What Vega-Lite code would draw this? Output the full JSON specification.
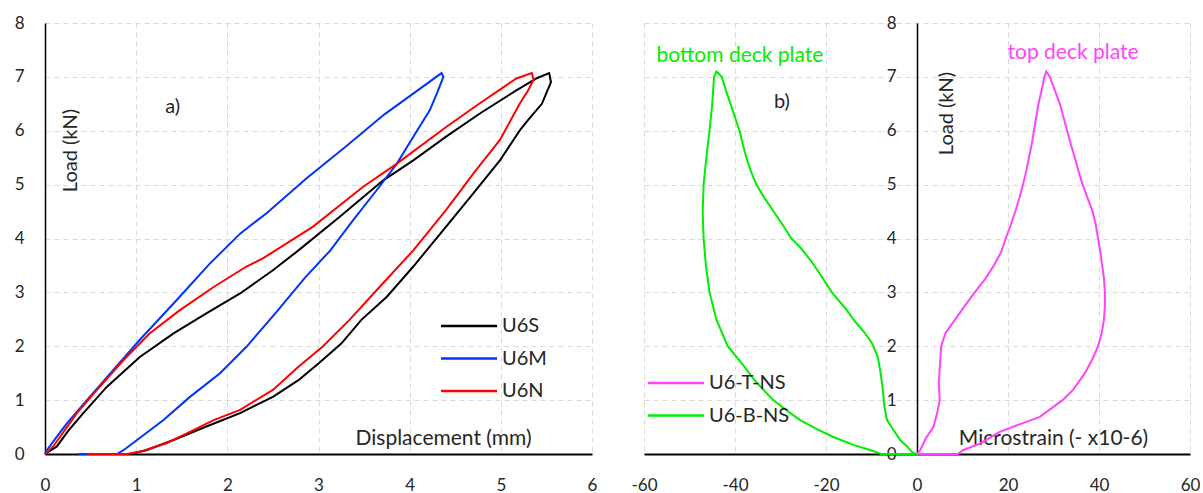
{
  "$schema": "https://vega.github.io/schema/vega-lite/v6.json",
  "background": "white",
  "padding": {"left": 14, "top": 14, "right": 0, "bottom": 0},
  "bounds": "flush",
  "spacing": 52,
  "config": {
    "view": {"stroke": null},
    "font": "Lato",
    "axis": {
      "labelFont": "Lato", "labelFontSize": 17, "labelColor": "#262626", "labelFlush": false,
      "labelExpr": "'' + datum.value",
      "titleFont": "Lato", "titleFontSize": 21, "titleFontWeight": "normal", "titleColor": "#262626",
      "ticks": false, "grid": true, "gridColor": "#d9d9d9", "gridDash": [5, 4], "gridWidth": 1,
      "domainColor": "#000000"
    },
    "legend": {
      "labelFont": "Lato", "labelFontSize": 20, "labelColor": "#262626",
      "symbolType": "M-1.42,0H1.42", "symbolStrokeWidth": 2.5, "symbolSize": 1560,
      "rowPadding": 1.5, "labelOffset": 12, "title": null
    }
  },
  "datasets": {
    "disp": [
      {"s":"U6S","i":1,"d":0,"p":0},{"s":"U6S","i":2,"d":0.13,"p":0.14},{"s":"U6S","i":3,"d":0.25,"p":0.42},{"s":"U6S","i":4,"d":0.42,"p":0.76},{"s":"U6S","i":5,"d":0.68,"p":1.25},{"s":"U6S","i":6,"d":1.04,"p":1.8},{"s":"U6S","i":7,"d":1.41,"p":2.24},{"s":"U6S","i":8,"d":1.77,"p":2.61},{"s":"U6S","i":9,"d":2.14,"p":2.98},{"s":"U6S","i":10,"d":2.5,"p":3.41},{"s":"U6S","i":11,"d":2.78,"p":3.78},{"s":"U6S","i":12,"d":3.23,"p":4.4},{"s":"U6S","i":13,"d":3.71,"p":5.08},{"s":"U6S","i":14,"d":4.04,"p":5.45},{"s":"U6S","i":15,"d":4.4,"p":5.89},{"s":"U6S","i":16,"d":4.77,"p":6.32},{"s":"U6S","i":17,"d":5.17,"p":6.75},{"s":"U6S","i":18,"d":5.4,"p":6.98},{"s":"U6S","i":19,"d":5.53,"p":7.07},{"s":"U6S","i":20,"d":5.55,"p":6.9},{"s":"U6S","i":21,"d":5.45,"p":6.5},{"s":"U6S","i":22,"d":5.3,"p":6.2},{"s":"U6S","i":23,"d":5.21,"p":6.01},{"s":"U6S","i":24,"d":4.99,"p":5.45},{"s":"U6S","i":25,"d":4.7,"p":4.84},{"s":"U6S","i":26,"d":4.4,"p":4.22},{"s":"U6S","i":27,"d":4.04,"p":3.48},{"s":"U6S","i":28,"d":3.75,"p":2.92},{"s":"U6S","i":29,"d":3.47,"p":2.49},{"s":"U6S","i":30,"d":3.25,"p":2.05},{"s":"U6S","i":31,"d":3.0,"p":1.68},{"s":"U6S","i":32,"d":2.78,"p":1.37},{"s":"U6S","i":33,"d":2.5,"p":1.06},{"s":"U6S","i":34,"d":2.14,"p":0.76},{"s":"U6S","i":35,"d":1.77,"p":0.51},{"s":"U6S","i":36,"d":1.41,"p":0.26},{"s":"U6S","i":37,"d":1.11,"p":0.07},{"s":"U6S","i":38,"d":0.93,"p":0},{"s":"U6S","i":39,"d":0.85,"p":0},
      {"s":"U6M","i":1,"d":0,"p":0},{"s":"U6M","i":2,"d":0.02,"p":0.07},{"s":"U6M","i":3,"d":0.12,"p":0.3},{"s":"U6M","i":4,"d":0.24,"p":0.57},{"s":"U6M","i":5,"d":0.46,"p":1.0},{"s":"U6M","i":6,"d":0.75,"p":1.56},{"s":"U6M","i":7,"d":1.04,"p":2.12},{"s":"U6M","i":8,"d":1.44,"p":2.85},{"s":"U6M","i":9,"d":1.8,"p":3.52},{"s":"U6M","i":10,"d":2.14,"p":4.09},{"s":"U6M","i":11,"d":2.43,"p":4.47},{"s":"U6M","i":12,"d":2.87,"p":5.12},{"s":"U6M","i":13,"d":3.31,"p":5.72},{"s":"U6M","i":14,"d":3.72,"p":6.3},{"s":"U6M","i":15,"d":4.08,"p":6.74},{"s":"U6M","i":16,"d":4.35,"p":7.07},{"s":"U6M","i":17,"d":4.37,"p":7.0},{"s":"U6M","i":18,"d":4.3,"p":6.7},{"s":"U6M","i":19,"d":4.22,"p":6.38},{"s":"U6M","i":20,"d":4.04,"p":5.89},{"s":"U6M","i":21,"d":3.86,"p":5.39},{"s":"U6M","i":22,"d":3.64,"p":4.9},{"s":"U6M","i":23,"d":3.38,"p":4.34},{"s":"U6M","i":24,"d":3.13,"p":3.78},{"s":"U6M","i":25,"d":2.85,"p":3.27},{"s":"U6M","i":26,"d":2.54,"p":2.64},{"s":"U6M","i":27,"d":2.21,"p":1.99},{"s":"U6M","i":28,"d":1.92,"p":1.5},{"s":"U6M","i":29,"d":1.59,"p":1.06},{"s":"U6M","i":30,"d":1.3,"p":0.63},{"s":"U6M","i":31,"d":1.01,"p":0.26},{"s":"U6M","i":32,"d":0.86,"p":0.07},{"s":"U6M","i":33,"d":0.79,"p":0},{"s":"U6M","i":34,"d":0.37,"p":0},
      {"s":"U6N","i":1,"d":0,"p":0},{"s":"U6N","i":2,"d":0.09,"p":0.14},{"s":"U6N","i":3,"d":0.2,"p":0.4},{"s":"U6N","i":4,"d":0.35,"p":0.76},{"s":"U6N","i":5,"d":0.57,"p":1.19},{"s":"U6N","i":6,"d":0.86,"p":1.74},{"s":"U6N","i":7,"d":1.15,"p":2.24},{"s":"U6N","i":8,"d":1.48,"p":2.67},{"s":"U6N","i":9,"d":1.85,"p":3.1},{"s":"U6N","i":10,"d":2.21,"p":3.48},{"s":"U6N","i":11,"d":2.39,"p":3.63},{"s":"U6N","i":12,"d":2.94,"p":4.22},{"s":"U6N","i":13,"d":3.49,"p":4.96},{"s":"U6N","i":14,"d":3.86,"p":5.39},{"s":"U6N","i":15,"d":4.4,"p":6.07},{"s":"U6N","i":16,"d":4.77,"p":6.51},{"s":"U6N","i":17,"d":5.17,"p":6.97},{"s":"U6N","i":18,"d":5.34,"p":7.07},{"s":"U6N","i":19,"d":5.36,"p":6.95},{"s":"U6N","i":20,"d":5.3,"p":6.75},{"s":"U6N","i":21,"d":5.21,"p":6.51},{"s":"U6N","i":22,"d":4.99,"p":5.83},{"s":"U6N","i":23,"d":4.7,"p":5.21},{"s":"U6N","i":24,"d":4.4,"p":4.53},{"s":"U6N","i":25,"d":4.04,"p":3.78},{"s":"U6N","i":26,"d":3.67,"p":3.1},{"s":"U6N","i":27,"d":3.34,"p":2.49},{"s":"U6N","i":28,"d":3.05,"p":2.0},{"s":"U6N","i":29,"d":2.78,"p":1.62},{"s":"U6N","i":30,"d":2.5,"p":1.19},{"s":"U6N","i":31,"d":2.14,"p":0.82},{"s":"U6N","i":32,"d":1.85,"p":0.63},{"s":"U6N","i":33,"d":1.55,"p":0.38},{"s":"U6N","i":34,"d":1.33,"p":0.2},{"s":"U6N","i":35,"d":1.04,"p":0.04},{"s":"U6N","i":36,"d":0.9,"p":0},{"s":"U6N","i":37,"d":0.46,"p":0}
    ],
    "strain": [
      {"s":"U6-T-NS","i":1,"e":0,"p":0},{"s":"U6-T-NS","i":2,"e":0.7,"p":0.07},{"s":"U6-T-NS","i":3,"e":2.0,"p":0.3},{"s":"U6-T-NS","i":4,"e":3.6,"p":0.5},{"s":"U6-T-NS","i":5,"e":4.4,"p":0.75},{"s":"U6-T-NS","i":6,"e":5.0,"p":1.0},{"s":"U6-T-NS","i":7,"e":4.8,"p":1.3},{"s":"U6-T-NS","i":8,"e":5.0,"p":1.6},{"s":"U6-T-NS","i":9,"e":5.3,"p":2.0},{"s":"U6-T-NS","i":10,"e":6.3,"p":2.25},{"s":"U6-T-NS","i":11,"e":8.4,"p":2.5},{"s":"U6-T-NS","i":12,"e":10.5,"p":2.75},{"s":"U6-T-NS","i":13,"e":12.7,"p":3.0},{"s":"U6-T-NS","i":14,"e":15.0,"p":3.25},{"s":"U6-T-NS","i":15,"e":16.9,"p":3.5},{"s":"U6-T-NS","i":16,"e":18.5,"p":3.75},{"s":"U6-T-NS","i":17,"e":19.5,"p":4.0},{"s":"U6-T-NS","i":18,"e":20.6,"p":4.25},{"s":"U6-T-NS","i":19,"e":21.6,"p":4.5},{"s":"U6-T-NS","i":20,"e":22.5,"p":4.75},{"s":"U6-T-NS","i":21,"e":23.3,"p":5.0},{"s":"U6-T-NS","i":22,"e":24.0,"p":5.25},{"s":"U6-T-NS","i":23,"e":24.6,"p":5.5},{"s":"U6-T-NS","i":24,"e":25.2,"p":5.75},{"s":"U6-T-NS","i":25,"e":25.7,"p":6.0},{"s":"U6-T-NS","i":26,"e":26.2,"p":6.25},{"s":"U6-T-NS","i":27,"e":26.7,"p":6.5},{"s":"U6-T-NS","i":28,"e":27.4,"p":6.75},{"s":"U6-T-NS","i":29,"e":28.0,"p":7.0},{"s":"U6-T-NS","i":30,"e":28.4,"p":7.1},{"s":"U6-T-NS","i":31,"e":29.2,"p":7.0},{"s":"U6-T-NS","i":32,"e":30.3,"p":6.75},{"s":"U6-T-NS","i":33,"e":31.4,"p":6.5},{"s":"U6-T-NS","i":34,"e":32.2,"p":6.25},{"s":"U6-T-NS","i":35,"e":33.0,"p":6.0},{"s":"U6-T-NS","i":36,"e":33.8,"p":5.75},{"s":"U6-T-NS","i":37,"e":34.7,"p":5.5},{"s":"U6-T-NS","i":38,"e":35.5,"p":5.25},{"s":"U6-T-NS","i":39,"e":36.4,"p":5.0},{"s":"U6-T-NS","i":40,"e":37.5,"p":4.75},{"s":"U6-T-NS","i":41,"e":38.6,"p":4.5},{"s":"U6-T-NS","i":42,"e":39.3,"p":4.25},{"s":"U6-T-NS","i":43,"e":39.8,"p":4.0},{"s":"U6-T-NS","i":44,"e":40.3,"p":3.75},{"s":"U6-T-NS","i":45,"e":40.7,"p":3.5},{"s":"U6-T-NS","i":46,"e":41.1,"p":3.25},{"s":"U6-T-NS","i":47,"e":41.3,"p":3.0},{"s":"U6-T-NS","i":48,"e":41.3,"p":2.75},{"s":"U6-T-NS","i":49,"e":41.1,"p":2.5},{"s":"U6-T-NS","i":50,"e":40.6,"p":2.25},{"s":"U6-T-NS","i":51,"e":39.8,"p":2.0},{"s":"U6-T-NS","i":52,"e":38.5,"p":1.75},{"s":"U6-T-NS","i":53,"e":36.9,"p":1.5},{"s":"U6-T-NS","i":54,"e":34.3,"p":1.19},{"s":"U6-T-NS","i":55,"e":32.0,"p":1.0},{"s":"U6-T-NS","i":56,"e":27.0,"p":0.69},{"s":"U6-T-NS","i":57,"e":22.5,"p":0.55},{"s":"U6-T-NS","i":58,"e":18.2,"p":0.41},{"s":"U6-T-NS","i":59,"e":14.0,"p":0.2},{"s":"U6-T-NS","i":60,"e":10.1,"p":0.07},{"s":"U6-T-NS","i":61,"e":9.0,"p":0},{"s":"U6-T-NS","i":62,"e":0,"p":0},
      {"s":"U6-B-NS","i":1,"e":0,"p":0},{"s":"U6-B-NS","i":2,"e":-0.9,"p":0.02},{"s":"U6-B-NS","i":3,"e":-2.3,"p":0.15},{"s":"U6-B-NS","i":4,"e":-3.7,"p":0.26},{"s":"U6-B-NS","i":5,"e":-5.2,"p":0.45},{"s":"U6-B-NS","i":6,"e":-6.6,"p":0.63},{"s":"U6-B-NS","i":7,"e":-7.2,"p":0.9},{"s":"U6-B-NS","i":8,"e":-7.5,"p":1.19},{"s":"U6-B-NS","i":9,"e":-8.0,"p":1.5},{"s":"U6-B-NS","i":10,"e":-8.6,"p":1.8},{"s":"U6-B-NS","i":11,"e":-9.9,"p":2.06},{"s":"U6-B-NS","i":12,"e":-11.5,"p":2.25},{"s":"U6-B-NS","i":13,"e":-13.5,"p":2.45},{"s":"U6-B-NS","i":14,"e":-15.7,"p":2.7},{"s":"U6-B-NS","i":15,"e":-18.7,"p":3.0},{"s":"U6-B-NS","i":16,"e":-21.0,"p":3.3},{"s":"U6-B-NS","i":17,"e":-23.0,"p":3.55},{"s":"U6-B-NS","i":18,"e":-25.3,"p":3.8},{"s":"U6-B-NS","i":19,"e":-27.6,"p":4.0},{"s":"U6-B-NS","i":20,"e":-29.5,"p":4.25},{"s":"U6-B-NS","i":21,"e":-31.5,"p":4.5},{"s":"U6-B-NS","i":22,"e":-33.5,"p":4.75},{"s":"U6-B-NS","i":23,"e":-35.3,"p":5.0},{"s":"U6-B-NS","i":24,"e":-36.5,"p":5.25},{"s":"U6-B-NS","i":25,"e":-37.5,"p":5.5},{"s":"U6-B-NS","i":26,"e":-38.3,"p":5.75},{"s":"U6-B-NS","i":27,"e":-39.0,"p":6.0},{"s":"U6-B-NS","i":28,"e":-40.0,"p":6.25},{"s":"U6-B-NS","i":29,"e":-41.0,"p":6.5},{"s":"U6-B-NS","i":30,"e":-42.0,"p":6.75},{"s":"U6-B-NS","i":31,"e":-42.9,"p":7.0},{"s":"U6-B-NS","i":32,"e":-44.1,"p":7.1},{"s":"U6-B-NS","i":33,"e":-44.6,"p":7.0},{"s":"U6-B-NS","i":34,"e":-45.0,"p":6.5},{"s":"U6-B-NS","i":35,"e":-45.6,"p":6.0},{"s":"U6-B-NS","i":36,"e":-46.3,"p":5.5},{"s":"U6-B-NS","i":37,"e":-46.9,"p":5.0},{"s":"U6-B-NS","i":38,"e":-47.1,"p":4.5},{"s":"U6-B-NS","i":39,"e":-46.9,"p":4.0},{"s":"U6-B-NS","i":40,"e":-46.4,"p":3.5},{"s":"U6-B-NS","i":41,"e":-45.6,"p":3.0},{"s":"U6-B-NS","i":42,"e":-44.1,"p":2.5},{"s":"U6-B-NS","i":43,"e":-41.6,"p":2.0},{"s":"U6-B-NS","i":44,"e":-38.2,"p":1.65},{"s":"U6-B-NS","i":45,"e":-35.5,"p":1.35},{"s":"U6-B-NS","i":46,"e":-31.6,"p":1.0},{"s":"U6-B-NS","i":47,"e":-28.5,"p":0.8},{"s":"U6-B-NS","i":48,"e":-25.7,"p":0.63},{"s":"U6-B-NS","i":49,"e":-22.0,"p":0.46},{"s":"U6-B-NS","i":50,"e":-18.5,"p":0.32},{"s":"U6-B-NS","i":51,"e":-14.0,"p":0.17},{"s":"U6-B-NS","i":52,"e":-10.5,"p":0.08},{"s":"U6-B-NS","i":53,"e":-8.5,"p":0.02},{"s":"U6-B-NS","i":54,"e":-8.0,"p":0},{"s":"U6-B-NS","i":55,"e":0,"p":0}
    ],
    "notes": [
      {"k":"a","x":1.4,"y":6.44,"t":"a)"},
      {"k":"b","x":-29.7,"y":6.53,"t":"b)"},
      {"k":"bot","x":-38.9,"y":7.38,"t":"bottom deck plate"},
      {"k":"top","x":34.3,"y":7.44,"t":"top deck plate"}
    ]
  },
  "resolve": {"scale": {"color": "independent", "x": "independent", "y": "independent"}, "legend": {"color": "independent"}},
  "hconcat": [
    {
      "width": 547, "height": 431,
      "layer": [
        {
          "data": {"name": "disp"},
          "mark": {"type": "line", "strokeWidth": 2, "interpolate": "linear"},
          "encoding": {
            "x": {"field": "d", "type": "quantitative", "scale": {"domain": [0, 6], "nice": false},
              "axis": {"values": [0,1,2,3,4,5,6], "labelPadding": 23, "domainWidth": 2,
                "title": "Displacement (mm)", "titleX": 398, "titleY": -10, "titleAlign": "center", "titleBaseline": "alphabetic", "titleAngle": 0}},
            "y": {"field": "p", "type": "quantitative", "scale": {"domain": [0, 8], "nice": false},
              "axis": {"values": [0,1,2,3,4,5,6,7,8], "labelPadding": 21, "domainWidth": 1.5,
                "title": "Load (kN)", "titleFontSize": 20, "titleX": 25, "titleY": 127, "titleAlign": "center", "titleBaseline": "middle", "titleAngle": -90}},
            "color": {"field": "s", "type": "nominal",
              "scale": {"domain": ["U6S", "U6M", "U6N"], "range": ["#000000", "#0033ff", "#ff0000"]},
              "legend": {"orient": "none", "legendX": 403, "legendY": 282}},
            "order": {"field": "i", "type": "quantitative"}
          }
        },
        {
          "data": {"name": "notes"},
          "transform": [{"filter": "datum.k == 'a'"}],
          "mark": {"type": "text", "fontSize": 20, "color": "#262626", "font": "Lato", "align": "center", "baseline": "middle"},
          "encoding": {
            "x": {"field": "x", "type": "quantitative"},
            "y": {"field": "y", "type": "quantitative"},
            "text": {"field": "t"}
          }
        }
      ]
    },
    {
      "width": 546, "height": 431,
      "layer": [
        {
          "data": {"name": "strain"},
          "mark": {"type": "line", "strokeWidth": 2, "interpolate": "linear"},
          "encoding": {
            "x": {"field": "e", "type": "quantitative", "scale": {"domain": [-60, 60], "nice": false},
              "axis": {"values": [-60,-40,-20,0,20,40,60], "labelPadding": 23, "domainWidth": 2,
                "title": "Microstrain (- x10-6)", "titleX": 409, "titleY": -10, "titleAlign": "center", "titleBaseline": "alphabetic", "titleAngle": 0}},
            "y": {"field": "p", "type": "quantitative", "scale": {"domain": [0, 8], "nice": false},
              "axis": {"values": [0,1,2,3,4,5,6,7,8], "labelPadding": 21, "domainWidth": 1.5, "offset": -273,
                "title": "Load (kN)", "titleFontSize": 20, "titleX": 29, "titleY": 90, "titleAlign": "center", "titleBaseline": "middle", "titleAngle": -90}},
            "color": {"field": "s", "type": "nominal",
              "scale": {"domain": ["U6-T-NS", "U6-B-NS"], "range": ["#ff44ff", "#00ee00"]},
              "legend": {"orient": "none", "legendX": 11, "legendY": 339}},
            "order": {"field": "i", "type": "quantitative"}
          }
        },
        {
          "data": {"name": "notes"},
          "transform": [{"filter": "datum.k == 'b'"}],
          "mark": {"type": "text", "fontSize": 20, "color": "#262626", "font": "Lato", "align": "center", "baseline": "middle"},
          "encoding": {
            "x": {"field": "x", "type": "quantitative"},
            "y": {"field": "y", "type": "quantitative"},
            "text": {"field": "t"}
          }
        },
        {
          "data": {"name": "notes"},
          "transform": [{"filter": "datum.k == 'bot'"}],
          "mark": {"type": "text", "fontSize": 21, "color": "#00ee00", "font": "Lato", "align": "center", "baseline": "middle"},
          "encoding": {
            "x": {"field": "x", "type": "quantitative"},
            "y": {"field": "y", "type": "quantitative"},
            "text": {"field": "t"}
          }
        },
        {
          "data": {"name": "notes"},
          "transform": [{"filter": "datum.k == 'top'"}],
          "mark": {"type": "text", "fontSize": 21, "color": "#ff44ff", "font": "Lato", "align": "center", "baseline": "middle"},
          "encoding": {
            "x": {"field": "x", "type": "quantitative"},
            "y": {"field": "y", "type": "quantitative"},
            "text": {"field": "t"}
          }
        }
      ]
    }
  ]
}
